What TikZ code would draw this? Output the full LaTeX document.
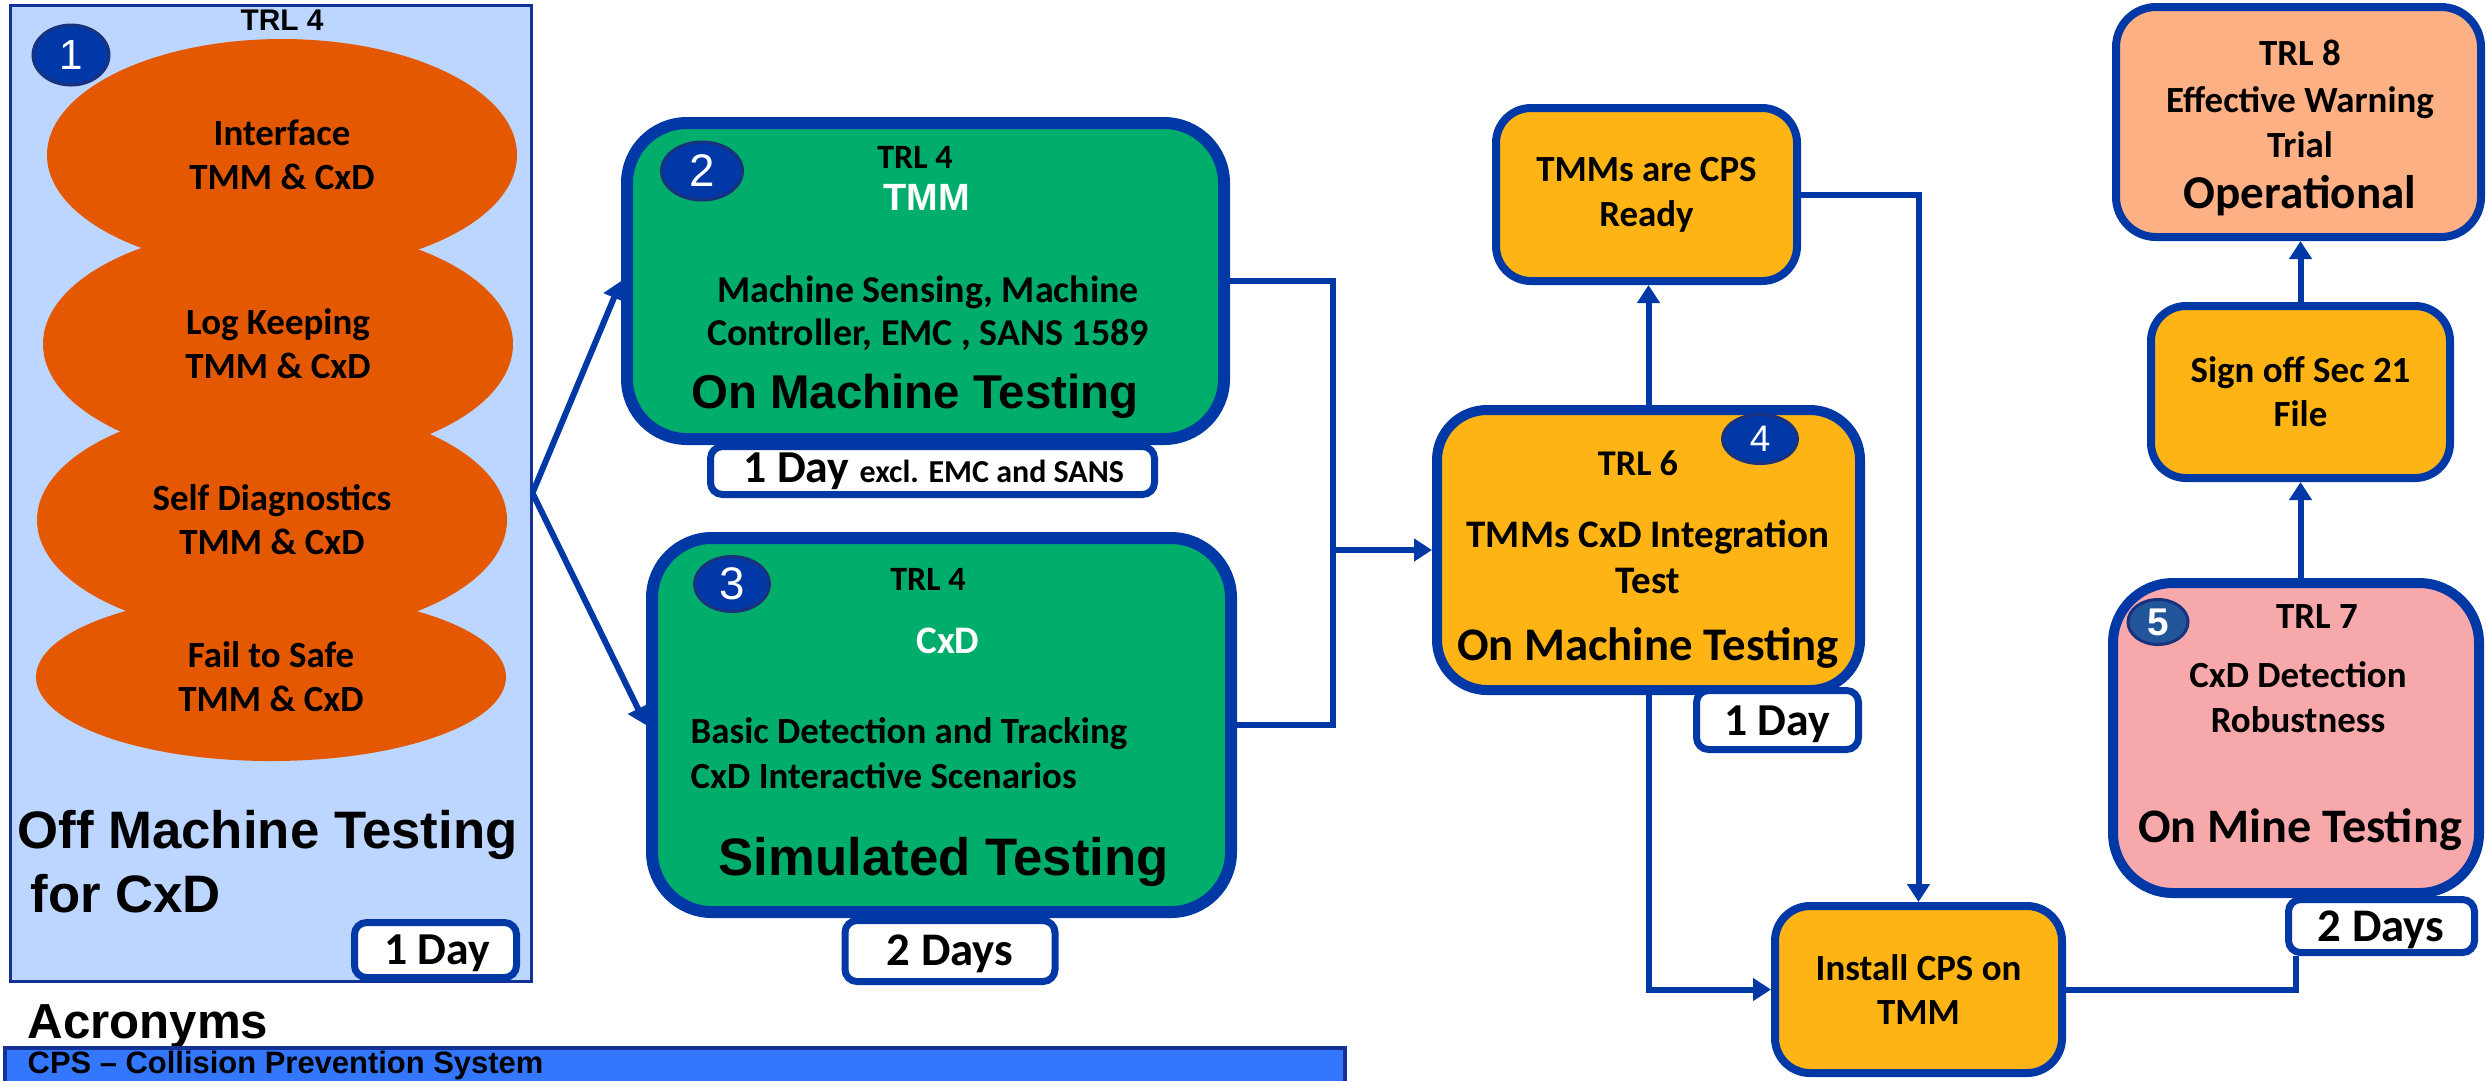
\documentclass[tikz,border=0pt]{standalone}
\usepackage{fontspec}
\setmainfont{Carlito}
\newfontfamily\arialfont{Liberation Sans}
\usetikzlibrary{arrows.meta,shapes.geometric,positioning}
\begin{document}
\begin{tikzpicture}[x=0.1mm, y=-0.1mm, >={Triangle[length=1.8mm,width=2.2mm]},
    stage/.style={draw=lineblue, inner sep=0pt},
    days/.style={draw=lineblue, line width=0.7mm, rounded corners=1.2mm, fill=white, inner sep=0pt},
    numdot/.style={ellipse, draw=numedge, line width=0.3mm, fill=numblue, text=white, inner sep=0pt},
    blob/.style={ellipse, fill=blobfill, inner sep=0pt, align=center, font=\bfseries\fsz{10.5}{12.5}},
    txt/.style={anchor=base, inner sep=0pt, font=\bfseries\fsz{10.5}{12}},
    flow/.style={draw=lineblue, line width=0.6mm}]
    \def\fsz#1#2{\fontsize{#1}{#2}\selectfont}
    \definecolor{lineblue}{RGB}{0,57,166}
    \definecolor{numblue}{RGB}{0,56,168}
    \definecolor{numedge}{RGB}{25,50,125}
    \definecolor{paleblue}{RGB}{189,214,255}
    \definecolor{offedge}{RGB}{20,50,150}
    \definecolor{blobfill}{RGB}{227,88,0}
    \definecolor{stagegreen}{RGB}{0,173,107}
    \definecolor{amber}{RGB}{253,180,20}
    \definecolor{rose}{RGB}{247,168,171}
    \definecolor{salmon}{RGB}{252,176,132}
    \definecolor{barblue}{RGB}{51,119,255}
    \useasboundingbox (0,0) rectangle (2486,1080);
    \node[draw=offedge, line width=0.3mm, fill=paleblue, minimum width=52.1mm, minimum height=97.6mm, inner sep=0pt] (offbox) at (270.5,493) {};
    \node[txt, font=\arialfont\bfseries\fsz{8.5}{9}] (offtrl) at (282,30) {TRL 4};
    \node[blob, minimum width=47mm, minimum height=23.2mm] (iface) at (282,155) {Interface\\TMM \& CxD};
    \node[blob, minimum width=47mm, minimum height=23.6mm] (logk) at (278,344) {Log Keeping\\TMM \& CxD};
    \node[blob, minimum width=47mm, minimum height=23.2mm] (selfd) at (272,520) {Self Diagnostics\\TMM \& CxD};
    \node[blob, minimum width=47mm, minimum height=16.8mm] (fsafe) at (271,677) {Fail to Safe\\TMM \& CxD};
    \node[numdot, minimum width=7.6mm, minimum height=6mm, font=\arialfont\fsz{12}{13}] (n1) at (71,55) {1};
    \node[txt, anchor=base west, font=\arialfont\bfseries\fsz{15}{16}] (offa) at (17,848) {Off Machine Testing};
    \node[txt, anchor=base west, font=\arialfont\bfseries\fsz{15}{16}] (offb) at (30,912) {for CxD};
    \node[days, minimum width=16.2mm, minimum height=5.5mm] (offday) at (435.5,950) {};
    \node[txt, font=\bfseries\fsz{13}{14}] (offdayt) at (437,964) {1 Day};

    \node[stage, line width=1.2mm, rounded corners=6mm, fill=stagegreen, minimum width=59.7mm, minimum height=31.6mm] (tmm) at (925.5,281) {};
    \node[numdot, minimum width=8.1mm, minimum height=5.8mm, font=\arialfont\fsz{13}{14}] (n2) at (702,171) {2};
    \node[txt, font=\bfseries\fsz{9.7}{11}] (tmmtrl) at (915,168) {TRL 4};
    \node[txt, text=white, font=\arialfont\bfseries\fsz{10.8}{12}] (tmmhead) at (927,210) {TMM};
    \node[txt, font=\bfseries\fsz{10.8}{12}] (tmmsense) at (928,302) {Machine Sensing, Machine};
    \node[txt, font=\bfseries\fsz{10.8}{12}] (tmmctrl) at (928,345) {Controller, EMC , SANS 1589};
    \node[txt, font=\arialfont\bfseries\fsz{13.5}{15}] (tmmtest) at (915,408) {On Machine Testing};
    \node[days, minimum width=44.4mm, minimum height=4.8mm] (tmmday) at (932.5,470.5) {};
    \node[txt, anchor=base west, font=\bfseries\fsz{13}{14}] (tmmdayt) at (743,482) {1 Day {\fsz{9.1}{10}excl. EMC and SANS}};

    \node[stage, line width=1.2mm, rounded corners=6mm, fill=stagegreen, minimum width=57.9mm, minimum height=37.4mm] (sim) at (941.5,725) {};
    \node[numdot, minimum width=7.5mm, minimum height=5.5mm, font=\arialfont\fsz{13}{14}] (n3) at (732,584) {3};
    \node[txt, font=\bfseries\fsz{9.7}{11}] (simtrl) at (928,590) {TRL 4};
    \node[txt, text=white, font=\bfseries\fsz{11.1}{12}] (simhead) at (948,653) {CxD};
    \node[txt, anchor=base west] (simdet) at (690,743) {Basic Detection and Tracking};
    \node[txt, anchor=base west] (simscen) at (690,788) {CxD Interactive Scenarios};
    \node[txt, anchor=base west, font=\arialfont\bfseries\fsz{15}{16}] (simtest) at (718,875) {Simulated Testing};
    \node[days, minimum width=21mm, minimum height=6.1mm] (simday) at (950,951) {};
    \node[txt, font=\bfseries\fsz{13.3}{14}] (simdayt) at (950,965) {2 Days};

    \node[stage, line width=1mm, rounded corners=5mm, fill=amber, minimum width=42.3mm, minimum height=28mm] (integ) at (1648.5,550) {};
    \node[numdot, minimum width=7.5mm, minimum height=4.9mm, font=\arialfont\fsz{10.5}{12}] (n4) at (1760,439) {4};
    \node[txt, font=\bfseries\fsz{10.3}{12}] (integtrl) at (1638,475) {TRL 6};
    \node[txt, font=\bfseries\fsz{11.1}{12}] (intega) at (1648,547) {TMMs CxD Integration};
    \node[txt, font=\bfseries\fsz{11.1}{12}] (integb) at (1648,593) {Test};
    \node[txt, font=\bfseries\fsz{13.3}{14}] (integtest) at (1648,660) {On Machine Testing};
    \node[days, minimum width=16.2mm, minimum height=5.9mm] (integday) at (1777.5,720) {};
    \node[txt, font=\bfseries\fsz{13}{14}] (integdayt) at (1777,735) {1 Day};

    \node[stage, line width=0.8mm, rounded corners=3.5mm, fill=amber, minimum width=30.1mm, minimum height=17.3mm, align=center, font=\bfseries\fsz{10.5}{12.8}] (ready) at (1646.5,194.5) {TMMs are CPS\\Ready};
    \node[stage, line width=0.8mm, rounded corners=3.5mm, fill=amber, minimum width=28.7mm, minimum height=16.7mm, align=center, font=\bfseries\fsz{10.5}{12.5}] (install) at (1918.5,989.5) {Install CPS on\\TMM};

    \node[stage, line width=1mm, rounded corners=6mm, fill=rose, minimum width=36.6mm, minimum height=31mm] (mine) at (2296,738) {};
    \node[numdot, minimum width=6mm, minimum height=4.5mm, fill={rgb,255:red,35;green,85;blue,155}, font=\arialfont\bfseries\fsz{11}{12}] (n5) at (2158,622) {5};
    \node[txt] (minetrl) at (2317,628) {TRL 7};
    \node[txt] (minea) at (2298,687) {CxD Detection};
    \node[txt] (mineb) at (2298,732) {Robustness};
    \node[txt, font=\bfseries\fsz{13.7}{15}] (minetest) at (2300,842) {On Mine Testing};
    \node[days, minimum width=18.6mm, minimum height=5.3mm] (mineday) at (2381.5,926) {};
    \node[txt, font=\bfseries\fsz{13.3}{14}] (minedayt) at (2381,941) {2 Days};

    \node[stage, line width=0.8mm, rounded corners=3.5mm, fill=amber, minimum width=29.9mm, minimum height=17.2mm, align=center, font=\bfseries\fsz{10.5}{12.5}] (signoff) at (2300.5,392) {Sign off Sec 21\\File};
    \node[stage, line width=0.8mm, rounded corners=4mm, fill=salmon, minimum width=36.5mm, minimum height=23mm] (oper) at (2298.5,122) {};
    \node[txt] (opertrl) at (2300,65) {TRL 8};
    \node[txt] (opera) at (2300,112) {Effective Warning};
    \node[txt] (operb) at (2300,157) {Trial};
    \node[txt, font=\bfseries\fsz{13.4}{15}] (opertest) at (2300,208) {Operational};

    \coordinate (join) at (1333,550);
    \draw[flow,->] (offbox.east) -- (tmm.west);
    \draw[flow,->] (offbox.east) -- (sim.west);
    \draw[flow,->] (tmm.east) -| (join) -- (integ.west);
    \draw[flow] (sim.east) -| (join);
    \draw[flow,->] (integ.north) -- (integ.north |- ready.south);
    \draw[flow,->] (ready.east) -| (install.north);
    \draw[flow,->] (integ.south) |- (install.west);
    \draw[flow] (install.east) -| (mine.south |- mineday.south);
    \draw[flow,->] (mine.north -| signoff.south) -- (signoff.south);
    \draw[flow,->] (signoff.north) -- (signoff.north |- oper.south);

    \node[txt, anchor=base west, font=\arialfont\bfseries\fsz{14}{15}] (acro) at (27,1038) {Acronyms};
    \node[draw=offedge, line width=0.4mm, fill=barblue, minimum width=134mm, minimum height=6mm, inner sep=0pt] (acrobar) at (675,1078) {};
    \node[txt, anchor=base west, font=\arialfont\bfseries\fsz{8.8}{10}] (cps) at (27,1073) {CPS – Collision Prevention System};
\end{tikzpicture}
\end{document}
